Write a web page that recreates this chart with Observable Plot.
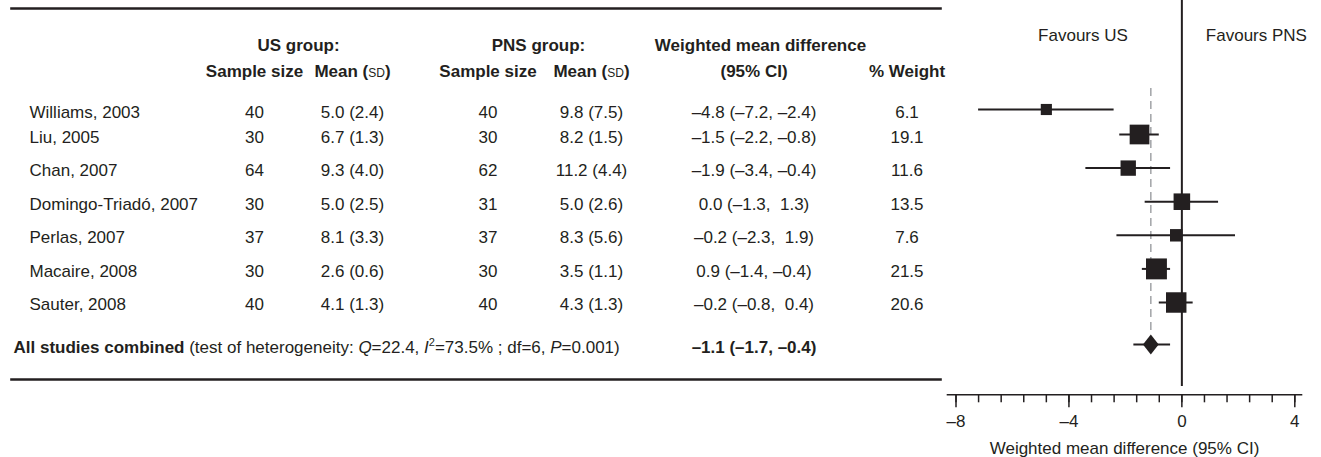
<!DOCTYPE html>
<html><head><meta charset="utf-8">
<script src="https://cdn.jsdelivr.net/npm/d3@7"></script>
<script src="https://cdn.jsdelivr.net/npm/@observablehq/plot@0.6"></script>
<style>
body{margin:0;background:#fff;}
#chart{position:relative;width:1321px;height:457px;}
#chart svg{position:absolute;left:0;top:0;max-width:none;}
</style></head><body><div id="chart"></div>
<script>
// ---------- data ----------
const studies = ["Williams, 2003","Liu, 2005","Chan, 2007","Domingo-Triadó, 2007","Perlas, 2007","Macaire, 2008","Sauter, 2008"];
const usN     = [40, 30, 64, 30, 37, 30, 40];
const usMean  = [5.0, 6.7, 9.3, 5.0, 8.1, 2.6, 4.1];
const usSD    = [2.4, 1.3, 4.0, 2.5, 3.3, 0.6, 1.3];
const pnsN    = [40, 30, 62, 31, 37, 30, 40];
const pnsMean = [9.8, 8.2, 11.2, 5.0, 8.3, 3.5, 4.3];
const pnsSD   = [7.5, 1.5, 4.4, 2.6, 5.6, 1.1, 1.3];
// as printed in the table
const wmdLabels = ["–4.8 (–7.2, –2.4)","–1.5 (–2.2, –0.8)","–1.9 (–3.4, –0.4)","0.0 (–1.3,  1.3)","–0.2 (–2.3,  1.9)","0.9 (–1.4, –0.4)","–0.2 (–0.8,  0.4)"];
// as plotted
const wmd     = [-4.8, -1.5, -1.9, 0.0, -0.2, -0.9, -0.2];
const ciLow   = [-7.2, -2.2, -3.4, -1.3, -2.3, -1.4, -0.8];
const ciHigh  = [-2.4, -0.8, -0.4, 1.3, 1.9, -0.4, 0.4];
const weights = [6.1, 19.1, 11.6, 13.5, 7.6, 21.5, 20.6];
const combinedEst = -1.1, combinedLow = -1.7, combinedHigh = -0.4;
const combinedText = "–1.1 (–1.7, –0.4)";
const heterogeneity = {Q: "22.4", I2: "73.5%", df: "6", P: "0.001"};
const headerGroups = ["US group:", "PNS group:"];
const headerSub = ["Sample size", "Mean (sd)"];
const wmdHeader = ["Weighted mean difference", "(95% CI)"];
const weightHeader = "% Weight";
const favours = ["Favours US", "Favours PNS"];
const axisLabel = "Weighted mean difference (95% CI)";
const minorTicks = [-8,-7.2,-6.4,-5.6,-4.8,-4,-3.2,-2.4,-1.6,-0.8,0,0.8,1.6,2.4,3.2,4];
const majorTicks = [-8,-4,0,4];

// ---------- setup ----------
const FONT = "'Liberation Sans', Arial, Helvetica, sans-serif";
const INK = "#231f20";
const rows = studies.map((s, i) => ({
  i, study: s,
  usN: String(usN[i]), usMS: `${usMean[i].toFixed(1)} (${usSD[i].toFixed(1)})`,
  pnsN: String(pnsN[i]), pnsMS: `${pnsMean[i].toFixed(1)} (${pnsSD[i].toFixed(1)})`,
  wmdLabel: wmdLabels[i], weight: weights[i], weightLabel: weights[i].toFixed(1),
  est: wmd[i], lo: ciLow[i], hi: ciHigh[i]
}));
const HEAD1 = -2, HEAD2 = -1, COMB = studies.length;
const combinedLabel = `All studies combined (test of heterogeneity: Q=${heterogeneity.Q}, I2=${heterogeneity.I2} ; df=${heterogeneity.df}, P=${heterogeneity.P})`;

// layout (column centres, px)
const L = 11;
const colX = {study: 29, combined: 13, usGroup: 298, usN: 254, usMean: 352, pnsGroup: 538, pnsN: 487.5, pnsMean: 591, wmdHead: 760, wmd: 753.5, weight: 906.5};
const col = (key, anchor = "middle") => ({frameAnchor: "left", dx: colX[key] - L, textAnchor: anchor, fill: INK});
const bold = {fontWeight: "bold"};
const style = {fontFamily: FONT, fontSize: "17px", color: INK, background: "transparent", overflow: "visible"};

const table = Plot.plot({
  width: 1321, height: 457,
  marginTop: 8, marginBottom: 78, marginLeft: L, marginRight: 381,
  style,
  y: {type: "linear", domain: [HEAD1, HEAD2, 0, 1, COMB - 1, COMB], range: [45.5, 71, 111.7, 136.7, 304.3, 346.7], axis: null},
  marks: [
    Plot.frame({anchor: "top", stroke: INK, strokeWidth: 2.6}),
    Plot.frame({anchor: "bottom", stroke: INK, strokeWidth: 2.6}),
    // headers
    Plot.text([headerGroups[0]], {text: d => d, y: HEAD1, ...col("usGroup"), ...bold}),
    Plot.text([headerGroups[1]], {text: d => d, y: HEAD1, ...col("pnsGroup"), ...bold}),
    Plot.text([headerSub[0]], {text: d => d, y: HEAD2, ...col("usN"), ...bold}),
    Plot.text([headerSub[1]], {text: d => d, y: HEAD2, ...col("usMean"), ...bold}),
    Plot.text([headerSub[0]], {text: d => d, y: HEAD2, ...col("pnsN"), ...bold}),
    Plot.text([headerSub[1]], {text: d => d, y: HEAD2, ...col("pnsMean"), ...bold}),
    Plot.text([wmdHeader[0]], {text: d => d, y: HEAD1, ...col("wmdHead"), ...bold}),
    Plot.text([wmdHeader[1]], {text: d => d, y: HEAD2, ...col("wmd"), ...bold}),
    Plot.text([weightHeader], {text: d => d, y: HEAD2, ...col("weight"), ...bold}),
    // rows
    Plot.text(rows, {text: "study", y: "i", ...col("study", "start")}),
    Plot.text(rows, {text: "usN", y: "i", ...col("usN")}),
    Plot.text(rows, {text: "usMS", y: "i", ...col("usMean")}),
    Plot.text(rows, {text: "pnsN", y: "i", ...col("pnsN")}),
    Plot.text(rows, {text: "pnsMS", y: "i", ...col("pnsMean")}),
    Plot.text(rows, {text: "wmdLabel", y: "i", ...col("wmd")}),
    Plot.text(rows, {text: "weightLabel", y: "i", ...col("weight")}),
    // combined
    Plot.text([combinedLabel], {text: d => d, y: COMB, ...col("combined", "start")}),
    Plot.text([combinedText], {text: d => d, y: COMB, ...col("wmd"), ...bold})
  ]
});

// rich text post-processing
const NS = "http://www.w3.org/2000/svg";
function span(parent, txt, attrs = {}) {
  const s = document.createElementNS(NS, "tspan");
  for (const [k, v] of Object.entries(attrs)) s.setAttribute(k, v);
  s.textContent = txt;
  parent.appendChild(s);
}
for (const t of table.querySelectorAll("text")) {
  if (t.textContent === headerSub[1]) {
    t.textContent = "";
    span(t, "Mean (");
    span(t, "sd", {"font-variant": "small-caps", "font-weight": "normal"});
    span(t, ")");
  } else if (t.textContent === combinedLabel) {
    t.textContent = "";
    span(t, "All studies combined", {"font-weight": "bold"});
    span(t, " (test of heterogeneity: ");
    span(t, "Q", {"font-style": "italic"});
    span(t, `=${heterogeneity.Q}, `);
    span(t, "I", {"font-style": "italic"});
    span(t, "2", {"font-size": "11px", dy: "-7"});
    span(t, `=${heterogeneity.I2} ; df=${heterogeneity.df}, `, {dy: "7"});
    span(t, "P", {"font-style": "italic"});
    span(t, `=${heterogeneity.P})`);
  }
}

const diamond = {
  draw(context, size) {
    const r = Math.sqrt(size / Math.PI), w = r * 0.785;
    context.moveTo(0, -r); context.lineTo(w, 0); context.lineTo(0, r); context.lineTo(-w, 0); context.closePath();
  }
};
const fmt = d => d < 0 ? "–" + Math.abs(d) : String(d);

const forest = Plot.plot({
  width: 1321, height: 457,
  marginTop: 0, marginBottom: 62.7, marginLeft: 947, marginRight: 20, insetLeft: 8.5, insetRight: 6.7,
  style,
  x: {domain: [-8, 4], axis: null},
  y: {type: "linear", domain: [0, 1, COMB - 1, COMB], range: [109, 134, 302, 344], axis: null},
  r: {range: [0, 11.8]},
  marks: [
    Plot.ruleX([0], {stroke: INK, strokeWidth: 2, insetBottom: 8.3}),
    Plot.ruleX([combinedEst], {y1: 0, y2: COMB, insetTop: -21, insetBottom: 10, stroke: "#a7a9ac", strokeWidth: 1.6, strokeDasharray: "8,5"}),
    Plot.ruleY(rows, {y: "i", x1: "lo", x2: "hi", stroke: INK, strokeWidth: 2}),
    Plot.dot(rows, {x: "est", y: "i", r: "weight", symbol: "square", fill: INK}),
    Plot.ruleY([COMB], {x1: combinedLow, x2: combinedHigh, stroke: INK, strokeWidth: 2}),
    Plot.dot([COMB], {x: combinedEst, y: d => d, r: 10, symbol: diamond, fill: INK}),
    Plot.frame({anchor: "bottom", stroke: INK, strokeWidth: 1.6}),
    Plot.axisX({ticks: minorTicks, tickSize: 8, tickFormat: () => "", stroke: INK, strokeWidth: 1.5, label: null}),
    Plot.axisX({ticks: majorTicks, tickSize: 13, tickPadding: 7, tickFormat: fmt, stroke: INK, fill: INK, strokeWidth: 1.5, fontSize: 17, label: null}),
    Plot.text([axisLabel], {text: d => d, frameAnchor: "bottom", lineAnchor: "middle", dy: 53.7, fill: INK}),
    Plot.text([favours[0]], {text: d => d, x: 0, frameAnchor: "top", lineAnchor: "middle", dy: 35, textAnchor: "end", dx: -54, fill: INK}),
    Plot.text([favours[1]], {text: d => d, x: 0, frameAnchor: "top", lineAnchor: "middle", dy: 35, textAnchor: "start", dx: 24, fill: INK})
  ]
});

const chart = document.getElementById("chart");
chart.appendChild(table);
chart.appendChild(forest);
</script></body></html>
